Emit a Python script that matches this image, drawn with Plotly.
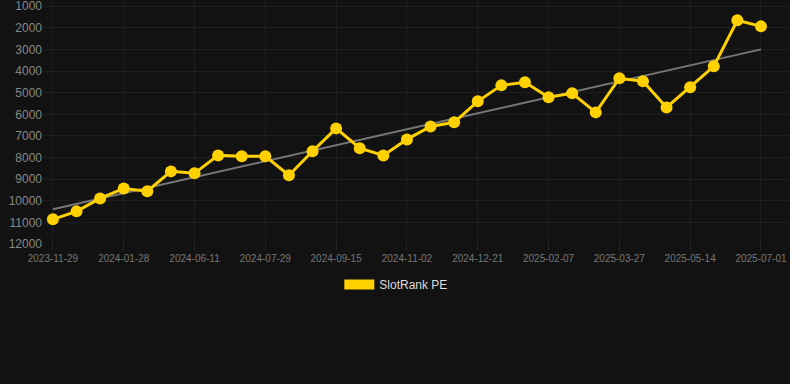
import numpy as np
import plotly.graph_objects as go

tick_labels = ["2023-11-29", "2024-01-28", "2024-06-11", "2024-07-29", "2024-09-15",
               "2024-11-02", "2024-12-21", "2025-02-07", "2025-03-27", "2025-05-14",
               "2025-07-01"]
rank_values = [10860, 10490, 9890, 9430, 9560, 8640, 8730, 7900, 7940, 7940,
               8820, 7710, 6650, 7570, 7900, 7160, 6560, 6370, 5400, 4660,
               4520, 5210, 5030, 5910, 4330, 4470, 5680, 4750, 3780, 1650, 1930]
series_name = "SlotRank PE"

x = np.arange(len(rank_values))
coef = np.polyfit(x, rank_values, 1)
trend = np.polyval(coef, x)

gold = "#FFD100"
fig = go.Figure()
fig.add_trace(go.Scatter(x=x, y=trend, mode="lines", line=dict(color="#777777", width=2),
                         showlegend=False, hoverinfo="skip"))
fig.add_trace(go.Scatter(x=x, y=rank_values, mode="lines+markers",
                         line=dict(color=gold, width=3),
                         marker=dict(color=gold, size=12),
                         showlegend=False, name=series_name))
fig.add_trace(go.Scatter(x=[None], y=[None], mode="lines", name=series_name,
                         line=dict(color=gold, width=12)))

fig.update_layout(
    width=790, height=384,
    paper_bgcolor="#121212", plot_bgcolor="#121212",
    margin=dict(l=43, r=0, t=0, b=140),
    font=dict(family="Liberation Sans, Arial, sans-serif", color="#888888"),
    legend=dict(orientation="h", x=0.473, xanchor="center", y=-0.107, yanchor="top",
                font=dict(size=12, color="#dddddd"), bgcolor="rgba(0,0,0,0)"),
    xaxis=dict(range=[-0.42, 31.23], tickmode="array",
               tickvals=list(range(0, len(rank_values), 3)), ticktext=tick_labels,
               showgrid=True, gridcolor="#1e1e1e", gridwidth=1,
               ticks="outside", ticklen=5, tickcolor="#2a2a2a",
               tickfont=dict(size=10, color="#777777"),
               showline=False, zeroline=False),
    yaxis=dict(range=[12000, 710], tickmode="linear", tick0=1000, dtick=1000,
               tickformat="d", ticklabeloverflow="allow",
               showgrid=True, gridcolor="#1e1e1e", gridwidth=1,
               tickfont=dict(size=12, color="#888888"),
               zeroline=False, showline=False, ticks=""),
)
fig.write_html("out.html", config={"displayModeBar": False},
               post_script="document.body.style.margin='0';document.body.style.background='#121212';")
